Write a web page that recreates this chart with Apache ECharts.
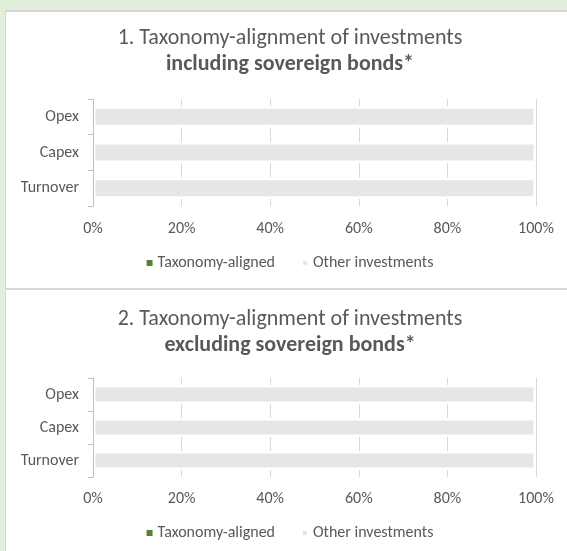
<!DOCTYPE html>
<html>
<head>
<meta charset="utf-8">
<script src="https://cdn.jsdelivr.net/npm/echarts@6/dist/echarts.min.js"></script>
<style>
  html, body { margin: 0; padding: 0; }
  body { width: 567px; height: 551px; overflow: hidden; background: #e2efda; position: relative; }
  .panel { position: absolute; left: 5px; top: 10px; right: 0; bottom: 0; background: #fff;
           border-left: 1px solid #d6d6d6; border-top: 2px solid #d6d6d6; }
  .divider { position: absolute; left: 5px; right: 0; top: 288px; height: 2px; background: #d9d9d9; }
  .chart { position: absolute; left: 6px; width: 568px; }
</style>
</head>
<body>
<div class="panel"></div>
<div class="divider"></div>
<div id="chart1" class="chart" style="top:0;height:288px;"></div>
<div id="chart2" class="chart" style="top:290px;height:261px;"></div>
<script>
// categories, bottom to top
var categories = ['Turnover', 'Capex', 'Opex']
var seriesNames = ['Taxonomy-aligned', 'Other investments']
var xTicks = [0, 20, 40, 60, 80, 100]

// chart 1: including sovereign bonds
var alignedIncl = [0, 0, 0]
var otherIncl = [100, 100, 100]
// chart 2: excluding sovereign bonds
var alignedExcl = [0, 0, 0]
var otherExcl = [100, 100, 100]

var FONT = 'Carlito, Calibri, Lato, "Open Sans", sans-serif'
var TXT = '#595959'

function buildOption (cfg) {
  return {
    animation: false,
    textStyle: { fontFamily: FONT },
    title: {
      left: 'center',
      top: cfg.titleTop,
      text: cfg.title,
      subtext: cfg.subtitle,
      itemGap: 4,
      textStyle: { fontFamily: FONT, fontSize: 22, fontWeight: 'normal', color: TXT },
      subtextStyle: { fontFamily: FONT, fontSize: 22, fontWeight: 'bold', color: TXT }
    },
    legend: {
      top: cfg.legendTop,
      left: 'center',
      icon: 'rect',
      itemWidth: 6,
      itemHeight: 6,
      itemGap: 26,
      data: seriesNames,
      textStyle: { fontFamily: FONT, fontSize: 16, color: TXT }
    },
    grid: { left: 87, right: 38, top: cfg.gridTop, height: cfg.gridHeight },
    xAxis: {
      type: 'value',
      min: xTicks[0],
      max: xTicks[xTicks.length - 1],
      interval: xTicks[1] - xTicks[0],
      axisLine: { show: false },
      axisTick: { show: false },
      splitLine: { show: true, lineStyle: { color: '#d9d9d9', width: 1 } },
      axisLabel: { formatter: '{value}%', color: TXT, fontSize: 16, margin: cfg.labelMargin, fontFamily: FONT }
    },
    yAxis: {
      type: 'category',
      data: categories,
      z: 5,
      axisLine: { show: true, lineStyle: { color: '#bfbfbf', width: 1 } },
      axisTick: { show: true, length: 5, lineStyle: { color: '#bfbfbf' } },
      axisLabel: { color: TXT, fontSize: 16, margin: 14, fontFamily: FONT }
    },
    series: [
      {
        name: seriesNames[0],
        type: 'bar',
        stack: 'all',
        barWidth: cfg.barWidth,
        itemStyle: { color: '#548235' },
        data: cfg.aligned
      },
      {
        name: seriesNames[1],
        type: 'bar',
        stack: 'all',
        barWidth: cfg.barWidth,
        itemStyle: { color: '#e7e6e6', borderColor: '#fff', borderWidth: 2.5 },
        data: cfg.other
      }
    ]
  }
}

var chart1 = echarts.init(document.getElementById('chart1'))
chart1.setOption(buildOption({
  title: '1. Taxonomy-alignment of investments',
  subtitle: 'including sovereign bonds*',
  titleTop: 22,
  legendTop: 250,
  gridTop: 99,
  gridHeight: 107,
  barWidth: 21,
  labelMargin: 15,
  aligned: alignedIncl,
  other: otherIncl
}))

var chart2 = echarts.init(document.getElementById('chart2'))
chart2.setOption(buildOption({
  title: '2. Taxonomy-alignment of investments',
  subtitle: 'excluding sovereign bonds*',
  titleTop: 13,
  legendTop: 230,
  gridTop: 88,
  gridHeight: 99,
  barWidth: 19,
  labelMargin: 14,
  aligned: alignedExcl,
  other: otherExcl
}))
</script>
</body>
</html>
